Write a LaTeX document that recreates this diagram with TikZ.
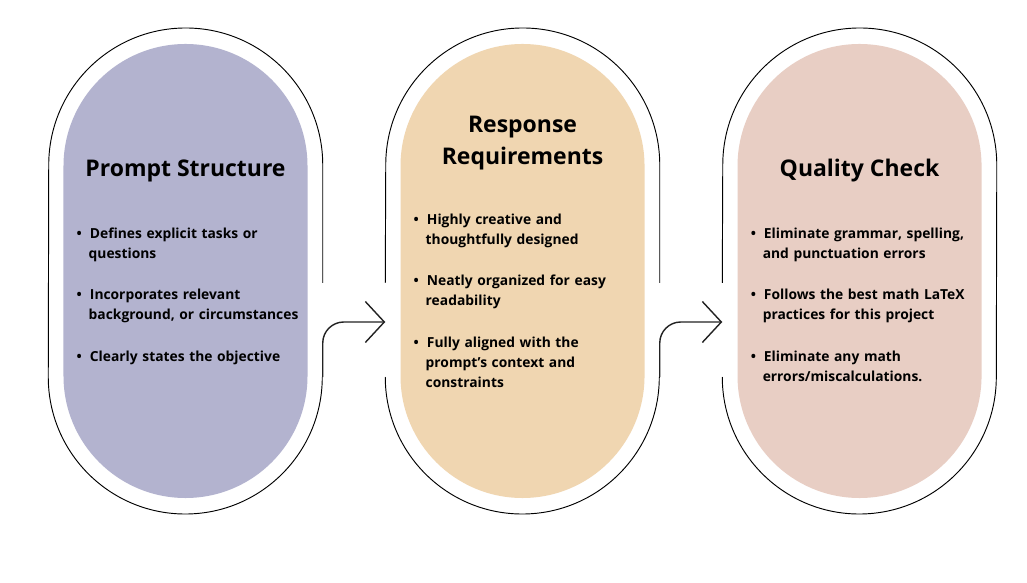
\documentclass[tikz,border=0pt]{standalone}
\usepackage{fontspec}
\setmainfont{Open Sans}
\usetikzlibrary{arrows.meta}

\definecolor{pillpurple}{HTML}{B3B3CF}
\definecolor{pillsand}{HTML}{F0D6B1}
\definecolor{pillrose}{HTML}{E8CEC4}
\definecolor{inkgray}{HTML}{222222}

\newenvironment{pointlist}{%
    \begin{list}{\textbullet}{%
        \setlength{\leftmargin}{0.36cm}%
        \setlength{\labelwidth}{0.12cm}%
        \setlength{\labelsep}{0.24cm}%
        \setlength{\itemsep}{18.5pt}%
        \setlength{\parsep}{0pt}%
        \setlength{\topsep}{0pt}%
        \setlength{\partopsep}{0pt}}}%
    {\end{list}}

\tikzstyle{pill} = [
    rectangle,
    rounded corners=3.66cm,
    minimum width=7.32cm,
    minimum height=13.62cm,
    inner sep=0pt
]
\tikzstyle{rimbox} = [
    rectangle,
    minimum width=8.22cm,
    minimum height=14.58cm,
    inner sep=0pt
]
\tikzstyle{rim} = [line width=0.8pt, draw=black]
\tikzstyle{arrow} = [
    line width=1.2pt,
    draw=inkgray,
    rounded corners=0.63cm,
    -{Straight Barb[length=0.57cm,width=1.23cm]}
]
\tikzstyle{heading} = [
    font=\bfseries\fontsize{19.6pt}{27.3pt}\selectfont,
    align=center,
    inner sep=0pt
]
\tikzstyle{points} = [
    font=\bfseries\fontsize{11.8pt}{17.07pt}\selectfont,
    text width=7.3cm,
    align=left,
    anchor=north west,
    inner sep=0pt
]

\begin{document}
\begin{tikzpicture}[x=0.03cm, y=0.03cm, node distance=10.11cm]

\path [fill=white] (0,0) rectangle (1027,582);
\useasboundingbox (0,0) rectangle (1027,582);

\node (prompt) [pill, fill=pillpurple] at (185.5,311) {};
\node (response) [pill, fill=pillsand, right of=prompt] {};
\node (quality) [pill, fill=pillrose, right of=response] {};

\node (promptrim) [rimbox] at (prompt) {};
\node (responserim) [rimbox] at (response) {};
\node (qualityrim) [rimbox] at (quality) {};

\draw [rim] ([yshift=-0.36cm]promptrim.east) -- ([yshift=3.18cm]promptrim.east)
    arc[start angle=0, end angle=180, radius=4.11cm] -- ([yshift=-3.18cm]promptrim.west)
    arc[start angle=180, end angle=360, radius=4.11cm];
\draw [rim] ([yshift=-0.36cm]responserim.east) -- ([yshift=3.18cm]responserim.east)
    arc[start angle=0, end angle=180, radius=4.11cm] -- ([yshift=-0.36cm]responserim.west);
\draw [rim] ([yshift=-3.18cm]responserim.west)
    arc[start angle=180, end angle=360, radius=4.11cm];
\draw [rim] ([yshift=-3.18cm]qualityrim.west)
    arc[start angle=180, end angle=360, radius=4.11cm] -- ([yshift=3.18cm]qualityrim.east)
    arc[start angle=0, end angle=180, radius=4.11cm] -- ([yshift=-0.36cm]qualityrim.west);

\draw [arrow] ([yshift=-3.18cm]promptrim.east) |- ([yshift=-1.53cm]responserim.west);
\draw [arrow] ([yshift=-3.18cm]responserim.east) |- ([yshift=-1.53cm]qualityrim.west);

\node (prompttitle) [heading, anchor=base] at ([yshift=2.82cm]prompt.center)
{Prompt Structure};
\node (responsetitle) [heading, anchor=north] at ([yshift=4.64cm]response.center)
{Response\\Requirements};
\node (qualitytitle) [heading, anchor=base] at ([yshift=2.82cm]quality.center)
{Quality Check};

\node (promptpoints) [points] at ([xshift=-3.27cm, yshift=1.59cm]prompt.center)
{\begin{pointlist}
\item Defines explicit tasks or\newline questions
\item Incorporates relevant\newline background, or circumstances
\item Clearly states the objective
\end{pointlist}};

\node (responsepoints) [points] at ([xshift=-3.27cm, yshift=2.01cm]response.center)
{\begin{pointlist}
\item Highly creative and\newline thoughtfully designed
\item Neatly organized for easy\newline readability
\item Fully aligned with the\newline prompt’s context and\newline constraints
\end{pointlist}};

\node (qualitypoints) [points] at ([xshift=-3.27cm, yshift=1.59cm]quality.center)
{\begin{pointlist}
\item Eliminate grammar, spelling,\newline and punctuation errors
\item Follows the best math LaTeX\newline practices for this project
\item Eliminate any math\newline errors/miscalculations.
\end{pointlist}};

\end{tikzpicture}
\end{document}
